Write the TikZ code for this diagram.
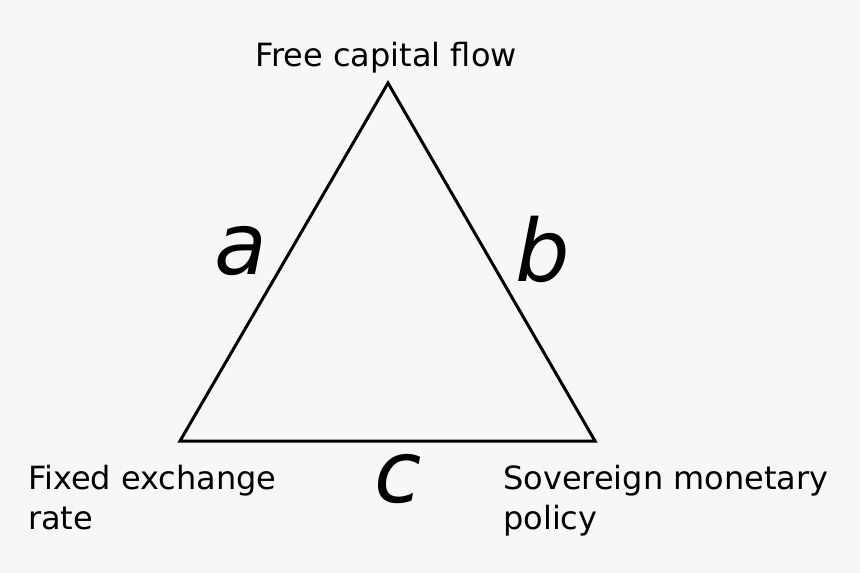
\documentclass[tikz,border=0pt]{standalone}
\usepackage{fontspec}
\setmainfont{DejaVu Sans}
\begin{document}
\begin{tikzpicture}[x=1pt,y=-1pt,
  lbl/.style={font=\fontsize{32}{40}\selectfont, inner sep=0pt},
  big/.style={font=\fontsize{86}{86}\selectfont\itshape, inner sep=0pt}]
\fill[fill={rgb,255:red,247;green,247;blue,247}] (0,0) rectangle (860,573);
\useasboundingbox (0,0) rectangle (860,573);
\coordinate (T) at (388,83);
\coordinate (L) at (180,441);
\coordinate (R) at (595,441);
\draw[line width=3pt, line join=miter] (T) -- (L) -- (R) -- cycle;
\node[lbl, anchor=base] (top) at (386,66) {Free capital flow};
\node[lbl, anchor=base west, align=left] (fx) at (28,529) {Fixed exchange\\rate};
\node[lbl, anchor=base west, align=left] (sm) at (503,529) {Sovereign monetary\\policy};
\node[big, anchor=base] (a) at (241,274) {a};
\node[big, anchor=base] (b) at (543,281) {b};
\node[big, anchor=base] (c) at (398,502) {c};
\end{tikzpicture}
\end{document}
